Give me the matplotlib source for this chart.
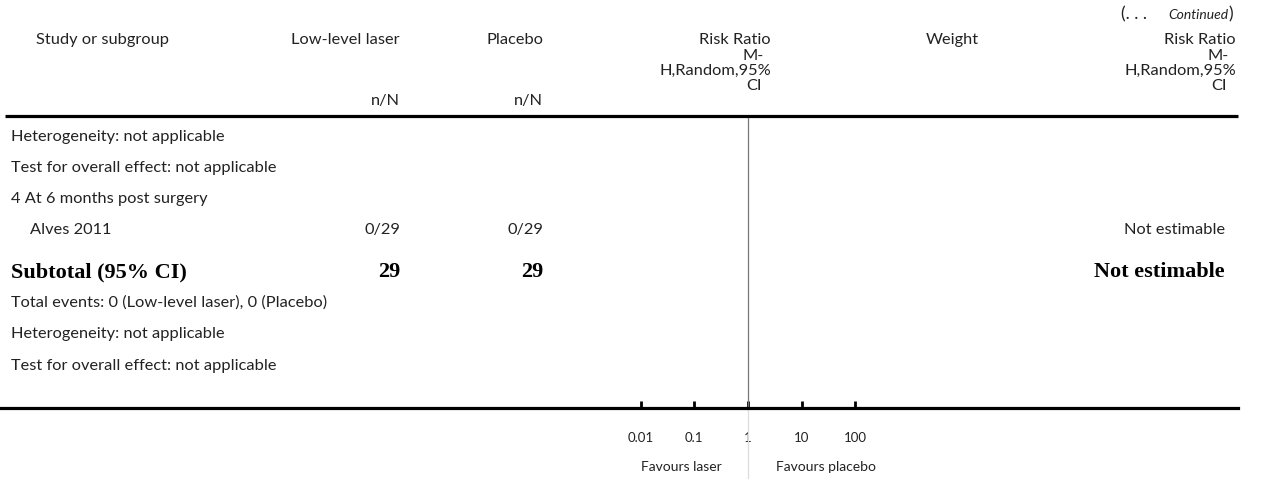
import matplotlib.pyplot as plt

plt.rcParams['font.family'] = ['Lato', 'DejaVu Sans']

W, H = 1266, 479

# table content
header_cols = ["Study or subgroup", "Low-level laser", "Placebo", "Weight"]
rr_header = ["Risk Ratio", "M-", "H,Random,95%", "CI"]
row_labels = ["Heterogeneity: not applicable",
              "Test for overall effect: not applicable",
              "4 At 6 months post surgery",
              "Alves 2011",
              "Subtotal (95% CI)",
              "Total events: 0 (Low-level laser), 0 (Placebo)",
              "Heterogeneity: not applicable",
              "Test for overall effect: not applicable"]
laser_vals = ["", "", "", "0/29", "29", "", "", ""]
placebo_vals = ["", "", "", "0/29", "29", "", "", ""]
rr_vals = ["", "", "", "Not estimable", "Not estimable", "", "", ""]
bold_rows = [4]
indent_rows = [3]
scale_ticks = [0.01, 0.1, 1, 10, 100]
scale_labels = ["0.01", "0.1", "1", "10", "100"]
favours = ["Favours laser", "Favours placebo"]

fig = plt.figure(figsize=(W / 100, H / 100), dpi=100)
ax = fig.add_axes([0, 0, 1, 1])
ax.set_xlim(0, W)
ax.set_ylim(H, 0)
ax.axis("off")

txt = "#222222"
fs = 11.8

# header
ax.text(1121, 14, "(. . .", ha="left", va="center", fontsize=12.5, color=txt)
ax.text(1233, 14, ")", ha="right", va="center", fontsize=12.5, color=txt)
ax.text(1228, 15, "Continued", ha="right", va="center", fontsize=10,
        style="italic", color=txt)
ax.text(36, 40, header_cols[0], ha="left", va="center", fontsize=fs, color=txt)
ax.text(400, 40, header_cols[1], ha="right", va="center", fontsize=fs, color=txt)
ax.text(543, 40, header_cols[2], ha="right", va="center", fontsize=fs, color=txt)
ax.text(952, 40, header_cols[3], ha="center", va="center", fontsize=fs, color=txt)
for x0 in (771, 1236):
    ys = [40, 56, 71, 86]
    offs = [0, -7, 0, -9]
    for s, y, o in zip(rr_header, ys, offs):
        ax.text(x0 + o, y, s, ha="right", va="center", fontsize=fs, color=txt)
ax.text(400, 101, "n/N", ha="right", va="center", fontsize=fs, color=txt)
ax.text(543, 101, "n/N", ha="right", va="center", fontsize=fs, color=txt)

ax.hlines(116, 5, 1238, color="black", lw=2.3)

# body rows
row_y = [137, 168, 199, 230, 272, 303, 334, 366]
for i, (lab, lv, pv, rv, y) in enumerate(zip(row_labels, laser_vals, placebo_vals, rr_vals, row_y)):
    if i in bold_rows:
        kw = dict(fontsize=16, fontweight="bold", family="Liberation Serif", color="black")
    else:
        kw = dict(fontsize=fs, color=txt)
    x0 = 30 if i in indent_rows else 11
    ax.text(x0, y, lab, ha="left", va="center", **kw)
    ax.text(400, y, lv, ha="right", va="center", **kw)
    ax.text(543, y, pv, ha="right", va="center", **kw)
    ax.text(1225, y, rv, ha="right", va="center", **kw)

# forest scale axis
x_one, dec = 748, 53.7
left_px, right_px = 0, 1238
fx = fig.add_axes([left_px / W, (H - 408) / H, (right_px - left_px) / W, (408 - 118) / H])
fx.set_xscale("log")
fx.set_xlim(10 ** ((left_px - x_one) / dec), 10 ** ((right_px - x_one) / dec))
fx.patch.set_visible(False)
for s in ("top", "left", "right"):
    fx.spines[s].set_visible(False)
fx.spines["bottom"].set_linewidth(2.3)
fx.set_yticks([])
fx.set_xticks(scale_ticks)
fx.set_xticklabels(scale_labels)
fx.minorticks_off()
fx.tick_params(axis="x", direction="in", length=5, width=2, pad=17,
               labelsize=9.5, labelcolor=txt)
fx.axvline(1, color="#777777", lw=0.9)
fx.axvline(1, ymin=-0.245, ymax=0, color="#dddddd", lw=0.9, clip_on=False)

ax.text(722, 467, favours[0], ha="right", va="center", fontsize=10, color=txt)
ax.text(776, 467, favours[1], ha="left", va="center", fontsize=10, color=txt)

fig.savefig("out.png", dpi=100)
